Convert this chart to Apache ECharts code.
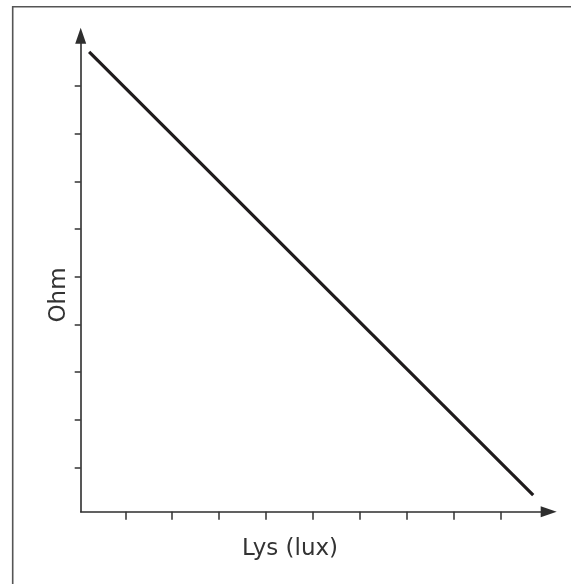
<!DOCTYPE html>
<html>
<head>
<meta charset="utf-8">
<title>Ohm / Lys (lux)</title>
<script src="https://cdn.jsdelivr.net/npm/echarts@6/dist/echarts.min.js"></script>
<style>
  html, body { margin: 0; padding: 0; background: #ffffff; }
  #chart { width: 571px; height: 584px; }
</style>
</head>
<body>
<div id="chart"></div>
<script>
// Light level (x) against resistance (y): a straight falling line, no numeric labels.
const xLabel = 'Lys (lux)';
const yLabel = 'Ohm';

// Unlabelled tick marks along each axis
const xTicks = [1, 2, 3, 4, 5, 6, 7, 8, 9];
const yTicks = [1, 2, 3, 4, 5, 6, 7, 8, 9];

// End points of the resistance line
const luxValues = [0.23, 9.69];
const ohmValues = [9.72, 0.42];

const lineData = luxValues.map((x, i) => [x, ohmValues[i]]);

const axisColor = '#2e2e2e';
const textColor = '#333333';
const fontFamily = '"DejaVu Sans", sans-serif';

const chart = echarts.init(document.getElementById('chart'), null, { renderer: 'canvas' });

chart.setOption({
  backgroundColor: '#ffffff',
  animation: false,
  grid: { left: 80.7, top: 35.7, right: 22.3, bottom: 72.3 },
  xAxis: {
    type: 'value',
    min: 0.05,
    max: 10.02,
    axisLine: {
      show: true,
      lineStyle: { color: axisColor, width: 1.6 },
      symbol: ['none', 'triangle'],
      symbolSize: [11, 16]
    },
    axisTick: {
      show: true,
      inside: false,
      length: 8,
      customValues: xTicks,
      lineStyle: { color: '#333333', width: 1.5 }
    },
    axisLabel: { show: false },
    splitLine: { show: false }
  },
  yAxis: {
    type: 'value',
    min: 0.07,
    max: 10.06,
    axisLine: {
      show: true,
      lineStyle: { color: axisColor, width: 1.6 },
      symbol: ['none', 'triangle'],
      symbolSize: [11, 16]
    },
    axisTick: {
      show: true,
      inside: false,
      length: 6,
      customValues: yTicks,
      lineStyle: { color: '#333333', width: 1.5 }
    },
    axisLabel: { show: false },
    splitLine: { show: false }
  },
  series: [{
    type: 'line',
    data: lineData,
    showSymbol: false,
    symbol: 'none',
    lineStyle: { color: '#1f1b1c', width: 3.2, cap: 'butt' },
    silent: true
  }],
  graphic: [
    {
      type: 'polyline',
      shape: { points: [[12.7, 584], [12.7, 6.7], [571, 6.7]] },
      style: { stroke: '#555555', lineWidth: 1.6, fill: null },
      silent: true
    },
    {
      type: 'text',
      x: 290,
      y: 549,
      style: {
        text: xLabel,
        fill: textColor,
        font: '23px ' + fontFamily,
        textAlign: 'center',
        textVerticalAlign: 'middle'
      },
      silent: true
    },
    {
      type: 'text',
      x: 59,
      y: 295,
      rotation: Math.PI / 2,
      style: {
        text: yLabel,
        fill: textColor,
        font: '23px ' + fontFamily,
        textAlign: 'center',
        textVerticalAlign: 'middle'
      },
      silent: true
    }
  ]
});
</script>
</body>
</html>
